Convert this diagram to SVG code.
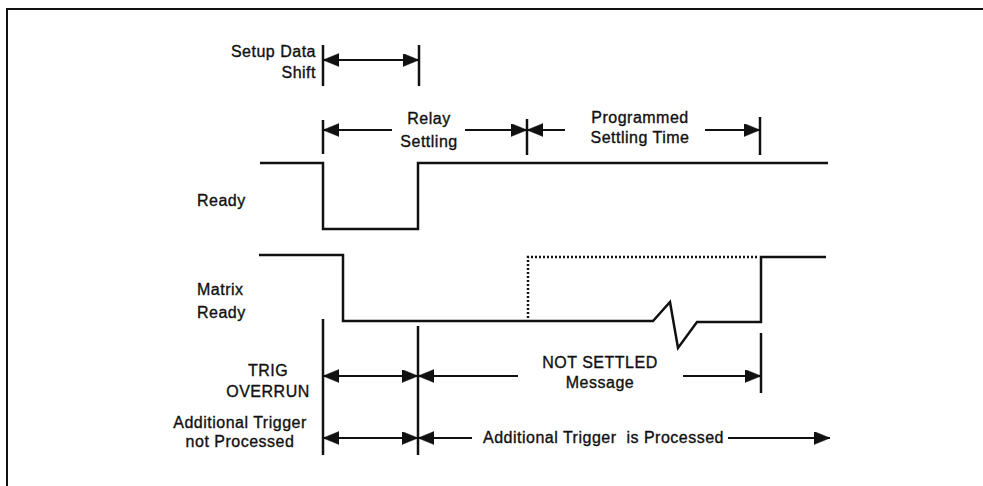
<svg xmlns="http://www.w3.org/2000/svg" width="983" height="486" viewBox="0 0 983 486">
<style>
text{font-family:"Liberation Sans",Arial,sans-serif;font-size:16px;fill:#111;stroke:#111;stroke-width:0.35;letter-spacing:0.5px}
.m{text-anchor:middle}
.e{text-anchor:end}
.sig{fill:none;stroke:#111;stroke-width:2.5;stroke-linejoin:miter}
.dot{fill:none;stroke:#111;stroke-width:2.5;stroke-dasharray:2 2}
.tick{stroke:#111;stroke-width:2.5}
.dim{stroke:#111;stroke-width:2;fill:none}
.a{marker-end:url(#ah)}
.b{marker-start:url(#ah);marker-end:url(#ah)}
.s{marker-start:url(#ah)}
</style>
<defs>
<marker id="ah" markerUnits="userSpaceOnUse" markerWidth="18" markerHeight="14" refX="16" refY="6.5" orient="auto-start-reverse">
<path d="M0,0 L16,6.5 L0,13 z" fill="#111" stroke="#111" stroke-width="0.5"/>
</marker>
</defs>
<rect width="983" height="486" fill="#fff"/>
<g id="frame"><path d="M7,486 V9 H983" fill="none" stroke="#111" stroke-width="2"/></g>

<g id="setup-label"><text class="e" x="316" y="57">Setup Data</text><text class="e" x="316" y="78">Shift</text></g>
<g id="relay-label"><text class="m" x="429" y="124">Relay</text><text class="m" x="429" y="147">Settling</text></g>
<g id="prog-label"><text class="m" x="640" y="123">Programmed</text><text class="m" x="640" y="143">Settling Time</text></g>
<g id="ready-label"><text x="197" y="206">Ready</text></g>
<g id="matrix-label"><text x="197" y="295">Matrix</text><text x="197" y="318">Ready</text></g>
<g id="trig-label"><text class="m" x="268" y="376">TRIG</text><text class="m" x="268" y="397">OVERRUN</text></g>
<g id="notproc-label"><text class="m" x="240" y="428">Additional Trigger</text><text class="m" x="240" y="447">not Processed</text></g>
<g id="notsettled-label"><text class="m" x="600" y="368">NOT SETTLED</text><text class="m" x="600" y="388">Message</text></g>
<g id="proc-label"><text x="483" y="443" xml:space="preserve">Additional Trigger  is Processed</text></g>

<g id="ready-signal"><path class="sig" d="M260,163 H323 V229 H418 V163 H828"/></g>
<g id="matrix-signal">
<path class="sig" d="M259,255 H343 V321 H653 L670,302 L678,348 L697,322 H761 V257 H826"/>
<path class="dot" d="M528,318 V257 H759"/>
</g>

<g id="connectors">
<line class="tick" x1="323" y1="45" x2="323" y2="86"/>
<line class="tick" x1="419" y1="45" x2="419" y2="86"/>
<line class="dim b" x1="323" y1="60" x2="419" y2="60"/>

<line class="tick" x1="323" y1="120" x2="323" y2="154"/>
<line class="tick" x1="527" y1="119" x2="527" y2="155"/>
<line class="tick" x1="760" y1="117" x2="760" y2="155"/>
<line class="dim s" x1="323" y1="130" x2="392" y2="130"/>
<line class="dim a" x1="465" y1="130" x2="527" y2="130"/>
<line class="dim s" x1="527" y1="130" x2="565" y2="130"/>
<line class="dim a" x1="705" y1="130" x2="760" y2="130"/>

<line class="tick" x1="323" y1="319" x2="323" y2="455"/>
<line class="tick" x1="418" y1="326" x2="418" y2="455"/>
<line class="tick" x1="761" y1="333" x2="761" y2="393"/>
<line class="dim b" x1="323" y1="376" x2="418" y2="376"/>
<line class="dim s" x1="418" y1="376" x2="518" y2="376"/>
<line class="dim a" x1="683" y1="376" x2="761" y2="376"/>

<line class="dim b" x1="323" y1="438" x2="418" y2="438"/>
<line class="dim s" x1="418" y1="438" x2="472" y2="438"/>
<line class="dim a" x1="728" y1="438" x2="830" y2="438"/>
</g>
</svg>
